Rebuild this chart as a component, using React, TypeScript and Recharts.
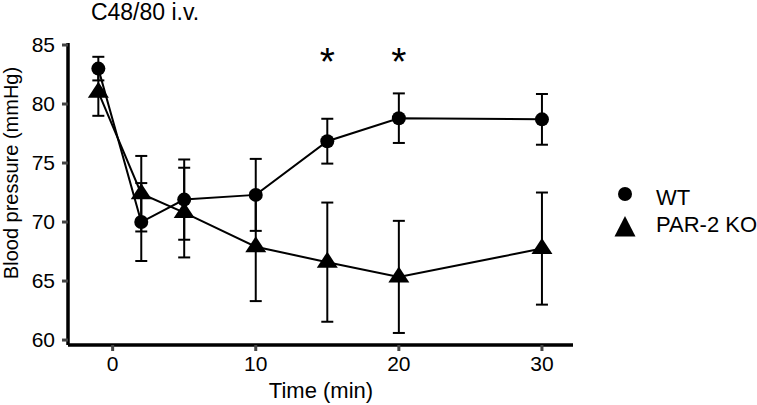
import React from "react";
import { LineChart, Line, XAxis, YAxis, ErrorBar, ReferenceDot, Legend } from "recharts";

// ─── Data ─────────────────────────────────────────────────────────────────────

const TIMES = [-1, 2, 5, 10, 15, 20, 30];
const WT_MEAN = [83.0, 70.0, 71.9, 72.3, 76.85, 78.8, 78.7];
const WT_SEM = [1.0, 3.3, 3.4, 3.05, 1.9, 2.1, 2.15];
const KO_MEAN = [81.0, 72.4, 70.8, 67.9, 66.6, 65.35, 67.75];
const KO_SEM = [2.0, 3.2, 3.8, 4.6, 5.05, 4.75, 4.75];

const X_TICKS = [0, 10, 20, 30];
const Y_TICKS = [60, 65, 70, 75, 80, 85];

// time points where WT vs PAR-2 KO differ (p < 0.05)
const SIGNIFICANT_TIMES = [15, 20];
const STAR_LEVEL = 84.35;

const rows = TIMES.map((t, i) => ({
  t,
  wt: WT_MEAN[i],
  wtErr: WT_SEM[i],
  ko: KO_MEAN[i],
  koErr: KO_SEM[i],
}));

// ─── Config ───────────────────────────────────────────────────────────────────

const FONT = '"Liberation Sans", Arial, sans-serif';
const INK = "#000";
const LEGEND_ORDER = ["wt", "ko"];

// ─── Markers ──────────────────────────────────────────────────────────────────

function CircleMark({ cx, cy }: { cx?: number; cy?: number }) {
  if (cx == null || cy == null) return null;
  return <circle cx={cx} cy={cy} r={7} fill={INK} />;
}

function TriangleMark({ cx, cy }: { cx?: number; cy?: number }) {
  if (cx == null || cy == null) return null;
  return (
    <path
      d={`M${cx},${cy - 10.5}L${cx + 10.5},${cy + 5.5}L${cx - 10.5},${cy + 5.5}Z`}
      fill={INK}
    />
  );
}

function Star({ cx, cy }: { cx?: number; cy?: number }) {
  if (cx == null || cy == null) return null;
  return (
    <text x={cx} y={cy + 22} textAnchor="middle" fontSize={39} fill={INK}>
      *
    </text>
  );
}

// ─── Legend ───────────────────────────────────────────────────────────────────

function LegendBox({ payload }: { payload?: any[] }) {
  const items = [...(payload ?? [])].sort(
    (a, b) => LEGEND_ORDER.indexOf(a.dataKey) - LEGEND_ORDER.indexOf(b.dataKey)
  );
  return (
    <svg width={146} height={64} style={{ display: "block", overflow: "visible" }}>
      {items.map((entry, i) => {
        const y = 14 + i * 36;
        return (
          <g key={entry.value}>
            {entry.dataKey === "wt" ? (
              <circle cx={14} cy={y} r={7} fill={INK} />
            ) : (
              <path d={`M14,${y - 14}L24.5,${y + 6.5}L3.5,${y + 6.5}Z`} fill={INK} />
            )}
            <text x={45} y={y + (i === 0 ? 11 : 2)} fontSize={22} fill={INK}>
              {entry.value}
            </text>
          </g>
        );
      })}
    </svg>
  );
}

// ─── Chart ────────────────────────────────────────────────────────────────────

export default function App() {
  return (
    <div
      style={{
        position: "absolute",
        left: 0,
        top: 0,
        width: 757,
        height: 405,
        background: "#fff",
        fontFamily: FONT,
      }}
    >
      <LineChart
        width={757}
        height={405}
        data={rows}
        margin={{ top: 43, right: 184, bottom: 20, left: 8 }}
      >
        <text x={145} y={20} textAnchor="middle" fontSize={23} fill={INK}>
          C48/80 i.v.
        </text>
        <text
          transform="translate(18,173) rotate(-90)"
          textAnchor="middle"
          fontSize={20}
          fill={INK}
        >
          Blood pressure (mmHg)
        </text>
        <text x={321} y={398} textAnchor="middle" fontSize={22} fill={INK}>
          Time (min)
        </text>

        <XAxis
          dataKey="t"
          type="number"
          domain={[-3.12, 32.17]}
          allowDataOverflow
          ticks={X_TICKS}
          height={40}
          axisLine={{ stroke: INK, strokeWidth: 3.5 }}
          tickLine={{ stroke: "#444", strokeWidth: 3 }}
          tickSize={6}
          tickMargin={5}
          tick={{ fill: INK, fontSize: 21 }}
        />
        <YAxis
          type="number"
          domain={[59.58, 85.17]}
          allowDataOverflow
          ticks={Y_TICKS}
          width={60}
          axisLine={{ stroke: INK, strokeWidth: 3.5 }}
          tickLine={{ stroke: "#444", strokeWidth: 3 }}
          tickSize={6}
          tickMargin={7}
          tick={{ fill: INK, fontSize: 21 }}
        />

        <Line
          dataKey="wt"
          name="WT"
          stroke={INK}
          strokeWidth={2}
          dot={(p: any) => <CircleMark key={`wt-${p.index}`} cx={p.cx} cy={p.cy} />}
          activeDot={false}
          isAnimationActive={false}
        >
          <ErrorBar dataKey="wtErr" width={6} stroke={INK} strokeWidth={2} />
        </Line>
        <Line
          dataKey="ko"
          name="PAR-2 KO"
          stroke={INK}
          strokeWidth={2}
          dot={(p: any) => <TriangleMark key={`ko-${p.index}`} cx={p.cx} cy={p.cy} />}
          activeDot={false}
          isAnimationActive={false}
        >
          <ErrorBar dataKey="koErr" width={6} stroke={INK} strokeWidth={2} />
        </Line>

        {SIGNIFICANT_TIMES.map((t) => (
          <ReferenceDot key={t} x={t} y={STAR_LEVEL} r={0} shape={<Star />} />
        ))}

        <Legend
          layout="vertical"
          align="center"
          verticalAlign="middle"
          width={146}
          content={<LegendBox />}
          wrapperStyle={{ left: 611, top: 180, width: 146 }}
        />
      </LineChart>
    </div>
  );
}
